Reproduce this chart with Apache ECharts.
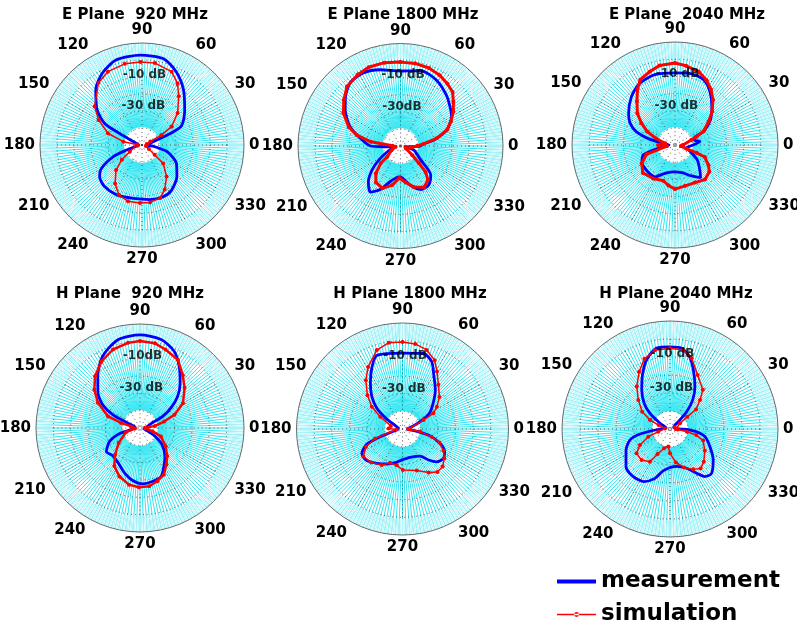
<!DOCTYPE html>
<html><head><meta charset="utf-8">
<script src="https://cdn.jsdelivr.net/npm/echarts/dist/echarts.min.js"></script>
<style>html,body{margin:0;padding:0;background:#fff}#c{width:797px;height:627px}</style>
</head><body><div id="c"></div>
<script>
// ---------- data (angle in degrees, level in dB) ----------
const angleTickLabels = ['0','30','60','90','120','150','180','210','240','270','300','330'];
const plotTitles = ['E Plane  920 MHz','E Plane 1800 MHz','E Plane  2040 MHz','H Plane  920 MHz','H Plane 1800 MHz','H Plane 2040 MHz'];
const dbLabelText = [['-10 dB','-30 dB'],['-10 dB','-30dB'],['-10 dB','-30 dB'],['-10dB','-30 dB'],['-10 dB','-30 dB'],['-10 dB','-30 dB']];
const dbLabelLevel = [-8.5, -27];

const e920MeasAng = [0,10,18,22,26,39,53,65,76,91,107,119,130,142,150,153,159,170,180,190,198,202,210,217,228,243,261,278,292,303,318,332,345,353];
const e920MeasDb = [-47.6,-45.9,-41.8,-32.4,-24.1,-17.7,-9.4,-2.4,2.3,2.9,2.3,-1.8,-7.7,-16.5,-24.7,-35.3,-44.7,-47.6,-48.2,-47.1,-40.6,-31.8,-22.4,-18.8,-17.1,-17.1,-18.2,-17.6,-17.1,-18.2,-22.4,-27.1,-34.7,-42.9];
const e920SimAng = [8,23,27,32,42,53,60,68,81,91,102,115,125,141,150,161,170,175,185,209,216,224,235,245,256,268,278,289,297,308,319,322,330,345];
const e920SimDb = [-47.1,-44.7,-37.1,-29.4,-21.8,-14.1,-8.2,-3.5,-1.2,-1.2,-1.2,-2.4,-5.3,-14.1,-20.6,-28.8,-38.8,-47.1,-47.6,-41.8,-35.3,-28.8,-22.4,-17.7,-15.9,-15.9,-15.9,-17.1,-20.6,-26.5,-33.5,-40.6,-45.3,-47.6];

const e1800MeasAng = [0,5,10,19,30,47,61,75,90,105,117,128,138,147,159,169,180,184,190,203,213,220,228,237,245,254,267,273,286,295,306,316,326,343,352,358];
const e1800MeasDb = [-38.3,-36.5,-30.1,-21.3,-15.5,-10.2,-6.1,-4.4,-6.1,-3.8,-2.0,-2.6,-6.7,-11.4,-18.4,-26.0,-32.5,-43.0,-46.5,-41.8,-34.8,-28.4,-21.9,-17.8,-21.9,-28.4,-31.9,-31.3,-25.4,-21.9,-21.9,-25.4,-36.0,-41.8,-47.1,-39.5];
const e1800SimAng = [0,5,12,19,26,33,40,46,53,61,70,80,90,101,112,121,132,141,150,160,166,172,178,190,205,219,221,228,236,247,258,268,278,288,300,309,314,317,322,335,350,355];
const e1800SimDb = [-40.1,-36.5,-28.4,-21.3,-17.2,-13.1,-9.6,-6.1,-4.4,-2.6,-1.4,-0.9,-0.9,-0.3,-0.3,-1.4,-3.2,-7.3,-11.4,-17.8,-23.7,-32.5,-45.3,-47.1,-44.2,-40.1,-34.8,-28.4,-24.3,-23.1,-26.6,-31.3,-28.4,-24.8,-22.2,-24.5,-28.9,-35.4,-41.2,-46.5,-47.1,-43.0];

const e2040MeasAng = [0,8,14,21,25,35,46,57,66,77,90,106,120,132,146,154,161,167,172,180,190,197,207,221,238,248,266,284,298,308,315,326,335,348,355];
const e2040MeasDb = [-39.5,-35.4,-38.3,-37.8,-31.9,-24.9,-19.1,-12.7,-8.6,-7.4,-8.0,-7.4,-8.6,-12.1,-17.4,-20.9,-26.1,-34.8,-43.0,-46.5,-41.3,-30.8,-28.4,-27.8,-28.1,-31.9,-34.3,-33.4,-29.6,-25.8,-29.6,-34.3,-39.5,-43.0,-41.3];
const e2040SimAng = [0,17,21,26,35,42,50,57,64,72,82,90,101,109,118,124,131,140,147,154,161,170,180,188,198,209,221,237,252,261,270,284,298,311,322,329,338,340,342,350];
const e2040SimDb = [-45.3,-40.1,-36.6,-31.3,-26.1,-20.9,-15.6,-11.5,-8.0,-5.1,-3.4,-2.2,-2.8,-4.8,-6.9,-10.9,-16.2,-21.4,-26.7,-31.9,-38.3,-44.2,-40.1,-45.3,-32.5,-27.8,-25.2,-26.7,-28.1,-26.1,-24.3,-25.5,-25.2,-23.4,-24.6,-27.3,-31.3,-36.6,-43.0,-46.5];

const h920MeasAng = [0,21.5,27,33,40,48,57.5,66,76.6,90,104,117.5,129,140,148,154,158,170,180,195,203.5,215,225,238,250,262,273,283,293.5,302,311,323,332,340,350];
const h920MeasDb = [-47.1,-43.1,-35.3,-28.7,-21.7,-15.4,-7.9,-1.5,2.5,3.7,2.5,-3.3,-11.3,-18.3,-24.6,-32.7,-42.5,-47.1,-47.1,-37.9,-31.0,-26.3,-27.5,-26.3,-22.9,-19.4,-17.7,-18.3,-19.4,-24.0,-28.1,-34.1,-40.8,-46.0,-47.7];
const h920SimAng = [0,8,15,21,30,42,51,61,72,80,90,98,109,120,131,140,149,160,165,170,185,197,215,227,236,247,259,269,279,288,297,306,314,324.5,338,345,355];
const h920SimDb = [-47.1,-41.3,-35.6,-28.7,-21.4,-15.4,-10.8,-5.0,-2.4,-0.4,0.2,-0.4,-2.1,-5.6,-10.5,-15.6,-21.7,-30.4,-38.7,-44.8,-47.1,-41.5,-35.0,-28.9,-23.5,-19.6,-16.7,-15.8,-16.0,-17.7,-19.8,-24.0,-27.5,-31.8,-37.0,-42.5,-46.5];

const h1800MeasAng = [0,14,22.5,30,40,50,60,66.5,74.5,90,109,116,125,133.5,141,147,155,170,190,199,203,211,220.5,233,246,258,269,285,303,310,316,324,332,339,346,350.5,356];
const h1800MeasDb = [-47.7,-44.3,-39.2,-32.5,-27.4,-21.1,-14.6,-8.5,-5.6,-7.0,-5.9,-10.7,-18.3,-24.8,-31.3,-39.0,-45.5,-47.7,-46.6,-36.6,-28.1,-23.2,-22.9,-25.7,-28.3,-30.5,-32.5,-33.4,-31.7,-27.1,-23.2,-21.5,-23.0,-27.2,-33.9,-40.9,-46.0];
const h1800SimAng = [0,23,27,33,41,51,59,65,73,81.5,90,99,108,119,127,136,144,151,165,178,185,199,206,215,227,240,250,261,270.5,289,301,309,317,325,332,340,345,351,356];
const h1800SimDb = [-46.6,-37.1,-30.4,-26.8,-22.3,-17.7,-12.1,-7.0,-3.2,-1.3,-0.8,-0.5,-3.0,-9.8,-15.5,-22.4,-28.5,-35.6,-43.2,-42.1,-46.6,-33.6,-27.0,-22.9,-24.0,-26.5,-29.6,-29.2,-26.8,-25.1,-21.2,-18.6,-18.9,-21.1,-23.7,-27.8,-33.0,-39.8,-45.5];

const h2040MeasAng = [0,20,38,41,46,52,59.4,68.4,75,81.8,90,99.4,108.7,117,126,135,142,150,165,180,189.5,195.4,206,220.6,232.4,243.7,253,261,280,293,301,306.3,313,324.4,336,347.6,354,359];
const h2040MeasDb = [-44.4,-47.8,-46.7,-43.9,-36.7,-29.5,-22.8,-14.7,-8.3,-4.7,-4.4,-4.4,-9.4,-16.3,-23.3,-29.7,-35.9,-43.6,-47.8,-44.4,-33.1,-26.9,-22.8,-17.8,-16.6,-17.4,-21.3,-26.6,-28.9,-26.3,-21.3,-17.2,-16.2,-20.5,-25.7,-30.1,-35.1,-40.7];
const h2040SimAng = [0,20,29.5,35.4,37,44,50,62.9,73,80.4,90,100.8,110,118.4,128,137.5,148,155.8,161,175,193,199.5,208,216,227.6,238.5,243.7,252.8,264.6,270,280,290,300,307.7,316,328,340.7,347,351,356];
const h2040SimDb = [-46.7,-47.2,-43.6,-38.3,-31.9,-26.8,-21.6,-16.3,-8.9,-5.5,-5.1,-5.5,-8.5,-13.9,-20.0,-26.1,-31.8,-37.8,-43.3,-47.2,-43.3,-37.2,-31.1,-27.0,-26.6,-28.7,-34.5,-38.8,-40.2,-36.5,-31.1,-27.3,-24.1,-22.2,-23.9,-27.2,-30.5,-35.0,-40.5,-45.6];

const measAng = [e920MeasAng,e1800MeasAng,e2040MeasAng,h920MeasAng,h1800MeasAng,h2040MeasAng];
const measDb  = [e920MeasDb,e1800MeasDb,e2040MeasDb,h920MeasDb,h1800MeasDb,h2040MeasDb];
const simAng  = [e920SimAng,e1800SimAng,e2040SimAng,h920SimAng,h1800SimAng,h2040SimAng];
const simDb   = [e920SimDb,e1800SimDb,e2040SimDb,h920SimDb,h1800SimDb,h2040SimDb];

// ---------- layout / style ----------
const layout = [
  {cx:142, cy:145, R:102, tx:135, ty:8,   simW:1.5},
  {cx:400.5, cy:146, R:102.5, tx:403, ty:8, simW:3},
  {cx:675, cy:145, R:103, tx:687, ty:8,   simW:3},
  {cx:140, cy:428, R:104, tx:130, ty:287, simW:2.5},
  {cx:402.5, cy:429, R:106, tx:410, ty:287, simW:1.5},
  {cx:670, cy:429, R:108, tx:676, ty:287, simW:1.5}
];
const DB_MIN = -50, DB_MAX = 10, DB_GRID_MAX = 0;
const FONT = 'DejaVu Sans';
const BLUE = '#0000ff', RED = '#ff0000', CYAN = '#30e6f2', CYAN2 = '#b5f5fa', GRID = '#3a3a3a';

function closed(ang, db) {
  const d = ang.map((a, i) => [db[i], a]);
  d.push([db[0], ang[0] + 360]);
  return d;
}

const polar = [], angleAxis = [], radiusAxis = [], series = [], title = [];
const off = {show:false};
function spokes(idx, interval, color, z) {
  return {polarIndex:idx, type:'value', min:0, max:360, interval:interval, startAngle:0, clockwise:false, z:z,
    axisLine:off, axisTick:off, axisLabel:off, splitLine:{show:true, lineStyle:{color:color, width:1}}};
}
layout.forEach((L, k) => {
  const base = polar.length;
  // background cyan spokes
  polar.push({center:[L.cx, L.cy], radius:[18, L.R]});
  angleAxis.push(spokes(base, 2, CYAN, 0));
  radiusAxis.push({polarIndex:base, type:'value', min:DB_MIN, max:DB_MAX, show:false});
  // denser rim band
  polar.push({center:[L.cx, L.cy], radius:[L.R * 0.85, L.R]});
  angleAxis.push(spokes(base+1, 1, CYAN2, 0));
  radiusAxis.push({polarIndex:base+1, type:'value', min:DB_MIN, max:DB_MAX, show:false});
  // dotted grid
  const gR = L.R * (DB_GRID_MAX - DB_MIN) / (DB_MAX - DB_MIN);
  polar.push({center:[L.cx, L.cy], radius:gR});
  angleAxis.push({polarIndex:base+2, type:'value', min:0, max:360, interval:30, startAngle:0, clockwise:false, z:1,
    axisLine:off, axisTick:off, axisLabel:off, splitLine:{show:true, lineStyle:{color:GRID, width:0.8, type:[1,3]}}});
  radiusAxis.push({polarIndex:base+2, type:'value', min:DB_MIN, max:DB_GRID_MAX, interval:10, z:1,
    axisLine:off, axisTick:off, axisLabel:off, splitLine:{show:true, lineStyle:{color:GRID, width:0.8, type:[1,3]}}});
  // data polar with outer circle + angle labels
  polar.push({center:[L.cx, L.cy], radius:L.R});
  angleAxis.push({polarIndex:base+3, type:'value', min:0, max:360, interval:30, startAngle:0, clockwise:false, z:2,
    axisLine:{show:true, lineStyle:{color:'#6a6a6a', width:1}}, axisTick:off, splitLine:off,
    axisLabel:{show:true, margin:5, color:'#000', fontFamily:FONT, fontWeight:'bold', fontSize:15,
      formatter: v => (v >= 360 ? '' : angleTickLabels[Math.round(v/30)])}});
  radiusAxis.push({polarIndex:base+3, type:'value', min:DB_MIN, max:DB_MAX, show:false});

  series.push({name:'measurement', type:'line', coordinateSystem:'polar', polarIndex:base+3, z:3,
    data:closed(measAng[k], measDb[k]), smooth:0.25, symbol:'none', lineStyle:{color:BLUE, width:2.8}, itemStyle:{color:BLUE}});
  series.push({name:'simulation', type:'line', coordinateSystem:'polar', polarIndex:base+3, z:4,
    data:closed(simAng[k], simDb[k]), symbol:'circle', symbolSize:4, showSymbol:true,
    lineStyle:{color:RED, width:L.simW}, itemStyle:{color:RED}});
  series.push({name:'dbLabels'+k, type:'scatter', coordinateSystem:'polar', polarIndex:base+3, z:5, silent:true,
    symbolSize:0,
    data: dbLabelLevel.map((lv, j) => ({value:[lv, 88], name:dbLabelText[k][j]})),
    label:{show:true, position:'inside', formatter:'{b}', color:'#000', fontFamily:FONT, fontWeight:'bold', fontSize:12}});
  title.push({text:plotTitles[k], left:L.tx, top:L.ty, textAlign:'center', padding:0,
    textStyle:{fontFamily:FONT, fontWeight:'bold', fontSize:15, color:'#000'}});
});

const legendText = {fontFamily:FONT, fontWeight:'bold', fontSize:23, color:'#000'};
const chart = echarts.init(document.getElementById('c'), null, {renderer:'canvas'});
chart.setOption({
  animation:false,
  backgroundColor:'#fff',
  title, polar, angleAxis, radiusAxis, series,
  legend:[
    {left:557, top:570, padding:0, itemWidth:39, itemHeight:4, selectedMode:false, textStyle:legendText,
     data:[{name:'measurement', icon:'rect'}]},
    {left:557, top:603, padding:0, itemWidth:39, itemHeight:5, selectedMode:false, textStyle:legendText,
     data:[{name:'simulation', icon:'path://M0,3.3H40V4.7H0Z M17.5,4A2.5,2.5,0,1,0,22.5,4A2.5,2.5,0,1,0,17.5,4Z'}]}
  ]
});
</script></body></html>
